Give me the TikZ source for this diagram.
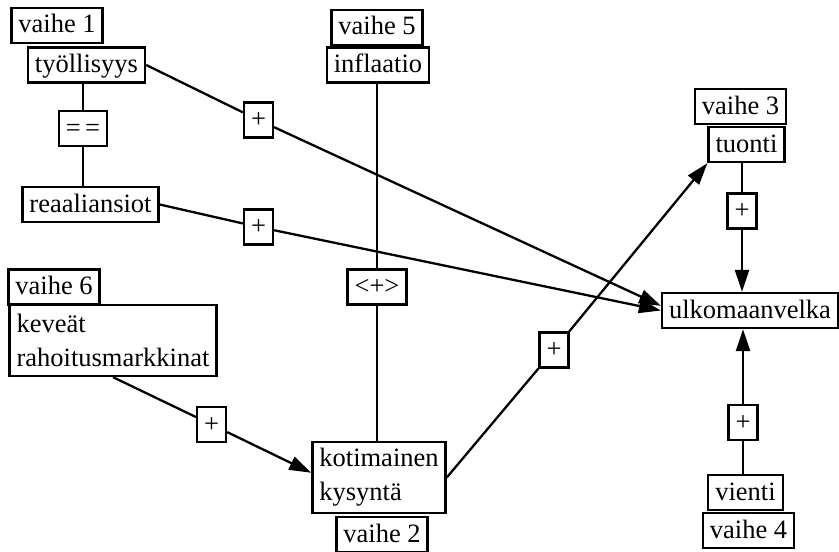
\documentclass[tikz,border=0pt]{standalone}
\usepackage{fontspec}
\setmainfont{Liberation Serif}
\usetikzlibrary{arrows.meta}
\begin{document}
\begin{tikzpicture}[x=0.5pt,y=-0.5pt,line width=1.15pt,
    box/.style={shape=rectangle,draw=black,inner xsep=3.5pt,inner ysep=0pt,minimum height=17.5pt,
        text height=10pt,text depth=2.5pt,font=\fontsize{13.25}{17}\selectfont},
    tbox/.style={shape=rectangle,draw=black,align=left,inner xsep=3.5pt,inner ysep=3pt,
        minimum height=35.5pt,font=\fontsize{13.25}{17}\selectfont},
    arr/.style={-{Triangle[length=11pt,width=7pt]}}]
                \useasboundingbox (0,0) rectangle (839,551);

                \node[box] (v1) at (57,25.5) {vaihe 1};
                \node[box] (ty) at (86.5,65) {työllisyys};
                \node[box] (eq) at (83,128.5) {=\,=};
                \node[box] (re) at (90.5,204.5) {reaaliansiot};
                \node[box] (p1) at (258.5,120) {+};
                \node[box] (p2) at (258.5,227) {+};

                \node[box] (v5) at (377,27.5) {vaihe 5};
                \node[box] (inf) at (378,65) {inflaatio};
                \node[box] (pm) at (377,287) {<+>};

                \node[box] (v6) at (54,287) {vaihe 6};
                \node[tbox] (kev) at (113,340.5) {keveät\\rahoitusmarkkinat};
                \node[box] (p6) at (211.5,424.5) {+};

                \node[tbox] (kot) at (379,477.5) {kotimainen\\kysyntä};
                \node[box] (v2) at (382,534.5) {vaihe 2};
                \node[box] (p3) at (554,350) {+};

                \node[box] (v3) at (740.5,106.5) {vaihe 3};
                \node[box] (tu) at (746.5,144.5) {tuonti};
                \node[box] (p4) at (742,211) {+};
                \node[box] (ul) at (750,310.5) {ulkomaanvelka};
                \node[box] (p5) at (743,422.5) {+};
                \node[box] (vi) at (745.5,492.5) {vienti};
                \node[box] (v4) at (748.5,530.5) {vaihe 4};

                \path [-] (eq |- ty.south) edge (eq);
                \path [-] (eq) edge (eq |- re.north);
                \path [-] (ty.east) edge (p1);
                \path [arr] (p1) edge (ul.177);
                \path [-] (re.east) edge (p2);
                \path [arr] (p2) edge (ul.west);
                \path [-] (pm |- inf.south) edge (pm);
                \path [-] (pm) edge (pm |- kot.north);
                \path [-] (kev.south) edge (p6);
                \path [arr] (p6) edge (kot.176);
                \path [-] (kot.east) edge (p3);
                \path [arr] (p3) edge (tu.south west);
                \path [-] (p4 |- tu.south) edge (p4);
                \path [arr] (p4) edge (p4 |- ul.north);
                \path [-] (p5 |- vi.north) edge (p5);
                \path [arr] (p5) edge (p5 |- ul.south);
            \end{tikzpicture}
\end{document}
